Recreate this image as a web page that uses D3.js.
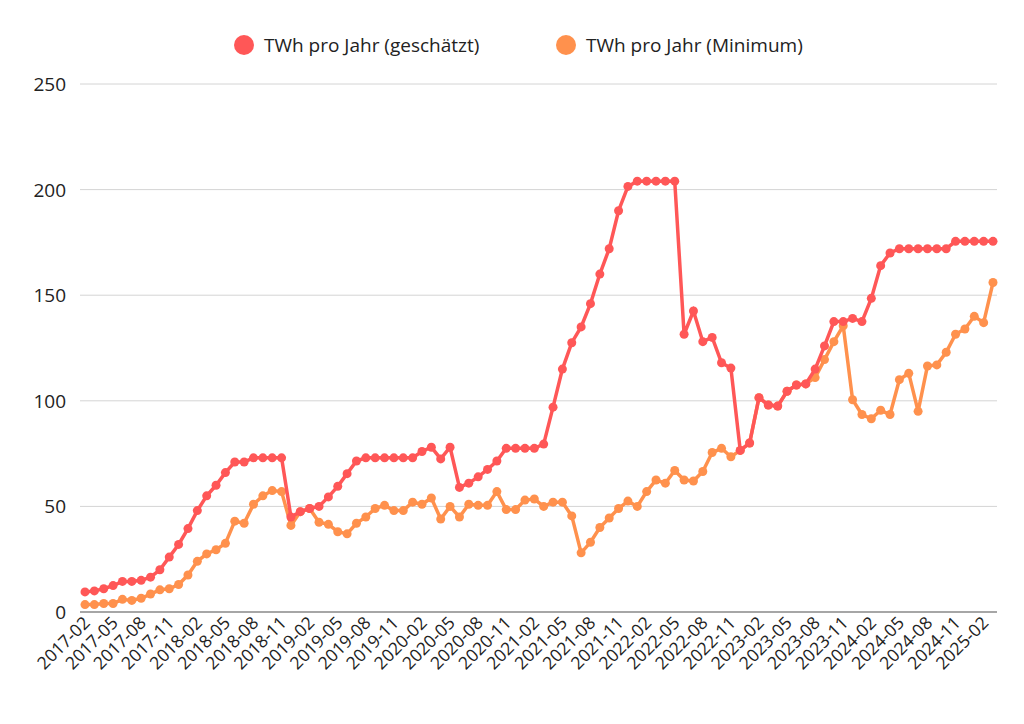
<!DOCTYPE html>
<html><head><meta charset="utf-8">
<script src="https://cdn.jsdelivr.net/npm/d3@7"></script>
<style>body{margin:0;background:#fff}text{font-family:"Open Sans",Lato,sans-serif}</style>
</head><body><div id="chart"></div>
<script>
const width = 1024, height = 724
const margin = {top: 84, right: 27, bottom: 112, left: 80}

const estimated = [9.5,10,11,12.5,14.5,14.5,15,16.5,20,26,32,39.5,48,55,60,66,71,71,73,73,73,73,
  45,47.5,49,50,54.5,59.5,65.5,71.5,73,73,73,73,73,73,76,78,72.5,78,
  59,61,64,67.5,71.5,77.5,77.5,77.5,77.5,79.5,
  97,115,127.5,135,146,160,172,190,201.5,204,204,204,204,204,
  131.5,142.5,128,130,118,115.5,
  76.5,80,101.5,98,97.5,104.5,107.5,108,115,126,137.5,137.5,139,137.5,148.5,164,170,
  172,172,172,172,172,172,175.5,175.5,175.5,175.5,175.5]
const minimum = [3.5,3.5,4,4,6,5.5,6.5,8.5,10.5,11,13,17.5,24,27.5,29.5,32.5,43,42,51,55,57.5,57,
  41,47.5,49,42.5,41.5,38,37,42,45,49,50.5,48,48,52,51,54,44,50,
  45,51,50.5,50.5,57,48.5,48.5,53,53.5,50,52,52,45.5,28,33,40,44.5,49,52.5,50,57,62.5,61,67,62.5,62,66.5,75.5,77.5,73.5,76.5,80,
  101.5,98,97.5,104.5,107.5,108,111,119.5,128,135.5,100.5,93.5,91.5,95.5,93.5,110,113,95,116.5,117,123,131.5,134,140,137,156]
const months = d3.range(estimated.length).map(i => {
  const m = 1 + i
  return `${2017 + Math.floor(m / 12)}-${String(m % 12 + 1).padStart(2, "0")}`
})
const seriesNames = ["TWh pro Jahr (geschätzt)", "TWh pro Jahr (Minimum)"]
const colors = ["#ff5757", "#ff914d"]
const yTicks = [0, 50, 100, 150, 200, 250]

const svg = d3.select("#chart").append("svg").attr("width", width).attr("height", height)

const x = d3.scalePoint().domain(months).range([margin.left + 5, width - margin.right - 4])
const y = d3.scaleLinear().domain([0, 250]).range([height - margin.bottom, margin.top])

svg.append("g").selectAll("line").data(yTicks.slice(1)).join("line")
  .attr("x1", margin.left).attr("x2", width - margin.right)
  .attr("y1", d => y(d)).attr("y2", d => y(d))
  .attr("stroke", "#d4d4d4").attr("stroke-width", 1)
svg.append("line").attr("x1", margin.left).attr("x2", width - margin.right)
  .attr("y1", y(0)).attr("y2", y(0)).attr("stroke", "#888").attr("stroke-width", 1.5)

svg.append("g").selectAll("text").data(yTicks).join("text")
  .attr("x", 66).attr("y", d => y(d) + 7).attr("text-anchor", "end")
  .attr("font-size", 19).attr("fill", "#222").text(d => d)

svg.append("g").selectAll("text").data(months.filter((d, i) => i % 3 === 0)).join("text")
  .attr("transform", d => `translate(${x(d) + 6},${y(0) + 12}) rotate(-45)`)
  .attr("text-anchor", "end").attr("font-size", 17.5).attr("fill", "#222").text(d => d)

const line = d3.line().x((d, i) => x(months[i])).y(d => y(d))
;[minimum, estimated].forEach((vals, k) => {
  const c = colors[1 - k]
  svg.append("path").datum(vals).attr("d", line).attr("fill", "none")
    .attr("stroke", c).attr("stroke-width", 3.5)
  svg.append("g").selectAll("circle").data(vals).join("circle")
    .attr("cx", (d, i) => x(months[i])).attr("cy", d => y(d)).attr("r", 4.5).attr("fill", c)
})

const legX = [244, 566]
seriesNames.forEach((n, i) => {
  svg.append("circle").attr("cx", legX[i]).attr("cy", 45).attr("r", 10).attr("fill", colors[i])
  svg.append("text").attr("x", legX[i] + 20).attr("y", 52).attr("font-size", 19).attr("fill", "#222").text(n)
})
</script></body></html>
